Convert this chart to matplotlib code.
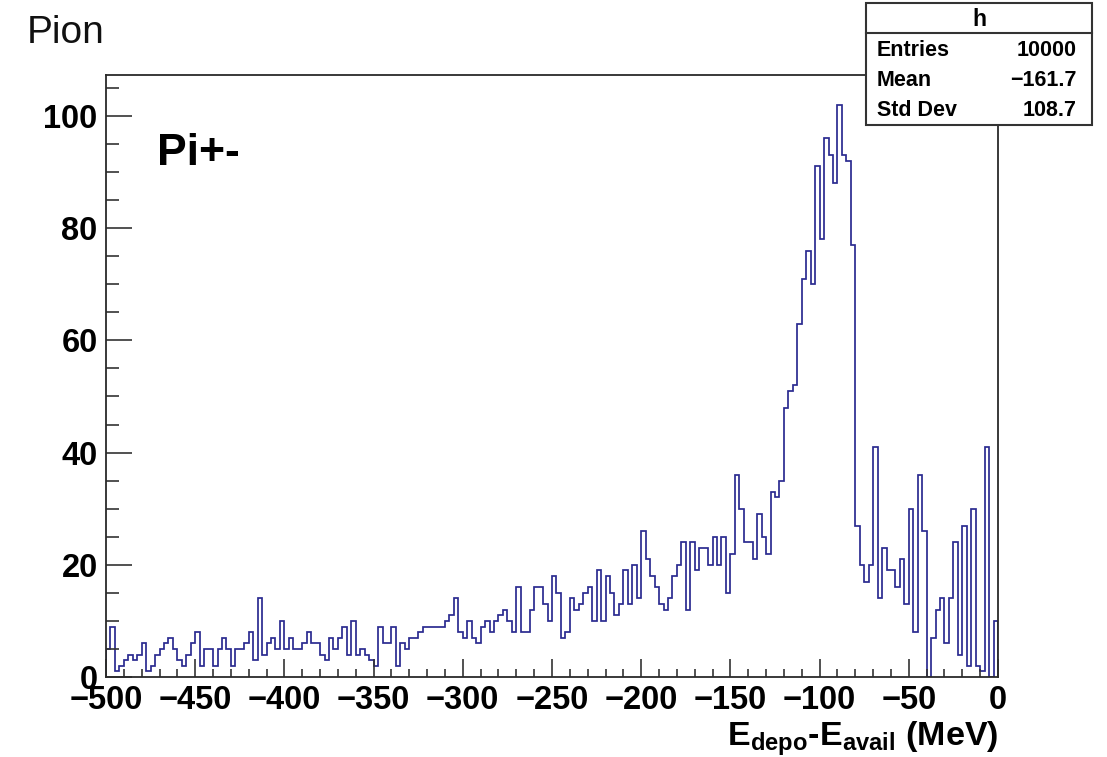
import matplotlib
matplotlib.use("Agg")
import matplotlib.pyplot as plt
import numpy as np
from matplotlib.patches import Rectangle
from matplotlib.lines import Line2D
from matplotlib.ticker import MultipleLocator

# histogram range and bin contents (200 bins of 2.5 MeV)
x_min, x_max = -500.0, 0.0
counts = [
    5, 9, 1, 2, 3, 4, 3, 4, 6, 1,
    2, 4, 5, 6, 7, 5, 3, 2, 4, 6,
    8, 2, 5, 5, 2, 5, 7, 5, 2, 5,
    5, 6, 8, 3, 14, 4, 6, 7, 5, 10,
    5, 7, 5, 5, 6, 8, 6, 6, 4, 3,
    7, 5, 7, 9, 4, 10, 4, 5, 4, 3,
    2, 9, 6, 6, 9, 2, 6, 5, 7, 7,
    8, 9, 9, 9, 9, 9, 10, 11, 14, 8,
    7, 10, 7, 6, 9, 10, 8, 10, 11, 12,
    10, 8, 16, 8, 8, 12, 16, 16, 13, 10,
    18, 15, 7, 8, 14, 12, 13, 15, 16, 10,
    19, 10, 18, 15, 11, 13, 19, 13, 20, 14,
    26, 21, 18, 16, 13, 12, 14, 18, 20, 24,
    12, 24, 19, 23, 23, 20, 25, 20, 25, 15,
    22, 36, 30, 24, 24, 21, 29, 25, 22, 33,
    32, 35, 48, 51, 52, 63, 71, 76, 70, 91,
    78, 96, 93, 88, 102, 93, 92, 77, 27, 20,
    17, 20, 41, 14, 23, 19, 19, 16, 21, 13,
    30, 8, 36, 26, 0, 7, 12, 14, 6, 14,
    24, 4, 27, 2, 30, 2, 1, 41, 0, 10,
]

x_ticks = [-500, -450, -400, -350, -300, -250, -200, -150, -100, -50, 0]
y_ticks = [0, 20, 40, 60, 80, 100]
y_top = 107.3

stats_title = "h"
stats_names = ["Entries", "Mean", "Std Dev"]
stats_values = ["10000", "\u2212161.7", "108.7"]

canvas_title = "Pion"
particle_label = "Pi+-"
x_label = r"$\mathbf{E}_{\mathbf{depo}}$-$\mathbf{E}_{\mathbf{avail}}$ (MeV)"

plt.rcParams["font.family"] = ["Liberation Sans", "DejaVu Sans"]
plt.rcParams["mathtext.fontset"] = "custom"
plt.rcParams["mathtext.rm"] = "Liberation Sans"
plt.rcParams["mathtext.bf"] = "Liberation Sans:bold"
plt.rcParams["axes.unicode_minus"] = True

W, H = 1107, 757
fig = plt.figure(figsize=(W / 100, H / 100), dpi=100, facecolor="white")


def fx(px):
    return px / W


def fy(py):
    return 1 - py / H


ax = fig.add_axes([fx(106), fy(677), fx(998 - 106), (677 - 75) / H])
edges = np.linspace(x_min, x_max, len(counts) + 1)
ax.stairs(counts, edges, color="#2a2a90", linewidth=1.25)

ax.set_xlim(x_min, x_max)
ax.set_ylim(0, y_top)
ax.set_xticks(x_ticks)
ax.set_yticks(y_ticks)
ax.xaxis.set_minor_locator(MultipleLocator(10))
ax.yaxis.set_minor_locator(MultipleLocator(5))
for sp in ax.spines.values():
    sp.set_linewidth(1.3)
    sp.set_color("#2a2a2a")

ax.tick_params(axis="both", which="both", direction="in", color="#333333", width=1.2)
ax.tick_params(axis="x", which="major", length=13, pad=6, labelsize=23.5)
ax.tick_params(axis="x", which="minor", length=6)
ax.tick_params(axis="y", which="major", length=19, pad=6, labelsize=23.5)
ax.tick_params(axis="y", which="minor", length=9.5)
for lab in ax.get_xticklabels() + ax.get_yticklabels():
    lab.set_fontweight("bold")

ax.set_xlabel(x_label, loc="right", fontsize=24.5, fontweight="bold", labelpad=2)

ax.text(-471.4, 91.3, particle_label, fontsize=32, fontweight="bold", va="baseline")

fig.text(fx(27), fy(43), canvas_title, fontsize=28, va="baseline", color="#111111")

# stats box
box = Rectangle((fx(866), fy(125)), fx(1092 - 866), (125 - 3) / H,
                transform=fig.transFigure, facecolor="white", edgecolor="#333333",
                linewidth=1.5, zorder=10)
fig.add_artist(box)
fig.add_artist(Line2D([fx(866), fx(1092)], [fy(33), fy(33)], transform=fig.transFigure,
                      color="#333333", linewidth=1.5, zorder=11))
fig.text(fx(979), fy(19), stats_title, ha="center", va="center", fontsize=16.5,
         fontweight="bold", zorder=12)
for i, (name, val) in enumerate(zip(stats_names, stats_values)):
    yy = fy(50 + 30 * i)
    fig.text(fx(877), yy, name, ha="left", va="center", fontsize=15.5,
             fontweight="bold", zorder=12)
    fig.text(fx(1077), yy, val, ha="right", va="center", fontsize=15.5,
             fontweight="bold", zorder=12)

fig.savefig("out.png", dpi=100, facecolor="white")
